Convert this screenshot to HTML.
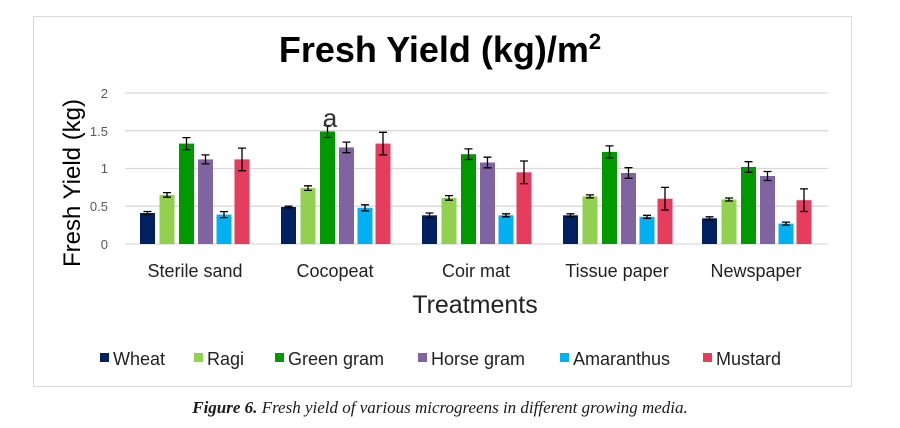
<!DOCTYPE html>
<html><head><meta charset="utf-8"><style>
body{margin:0;background:#fff;}
svg{display:block;font-family:"Liberation Sans",sans-serif;}
</style></head><body>
<svg width="900" height="428" xmlns="http://www.w3.org/2000/svg">
<rect x="33.5" y="16.5" width="818" height="370" fill="#fff" stroke="#d9d9d9" stroke-width="1"/>
<text x="440" y="62" font-size="36" font-weight="bold" text-anchor="middle" fill="#000">Fresh Yield (kg)/m<tspan font-size="22" dy="-13">2</tspan></text>
<g stroke="#d9d9d9" stroke-width="1.3">
<line x1="125" x2="828" y1="244" y2="244"/>
<line x1="125" x2="828" y1="206.2" y2="206.2"/>
<line x1="125" x2="828" y1="168.5" y2="168.5"/>
<line x1="125" x2="828" y1="130.7" y2="130.7"/>
<line x1="125" x2="828" y1="93" y2="93"/>
</g>
<g font-size="13" fill="#595959" text-anchor="end">
<text x="108" y="249">0</text><text x="108" y="211">0.5</text><text x="108" y="173">1</text><text x="108" y="136">1.5</text><text x="108" y="98">2</text>
</g>
<text transform="translate(80,183) rotate(-90)" font-size="24" text-anchor="middle" fill="#000">Fresh Yield (kg)</text>
<g>
<rect x="140" y="213.0" width="15" height="31.0" fill="#002060"/>
<rect x="159.5" y="194.9" width="15" height="49.1" fill="#92d050"/>
<rect x="179" y="143.6" width="15" height="100.4" fill="#009900"/>
<rect x="198" y="159.4" width="15" height="84.6" fill="#8064a2"/>
<rect x="216.5" y="214.6" width="15" height="29.4" fill="#00b0f0"/>
<rect x="234.5" y="159.4" width="15" height="84.6" fill="#e63c5e"/>

<rect x="281" y="207.0" width="15" height="37.0" fill="#002060"/>
<rect x="300.5" y="188.1" width="15" height="55.9" fill="#92d050"/>
<rect x="320" y="131.5" width="15" height="112.5" fill="#009900"/>
<rect x="339" y="147.4" width="15" height="96.6" fill="#8064a2"/>
<rect x="357.5" y="207.8" width="15" height="36.2" fill="#00b0f0"/>
<rect x="375.5" y="143.6" width="15" height="100.4" fill="#e63c5e"/>

<rect x="422" y="215.3" width="15" height="28.7" fill="#002060"/>
<rect x="441.5" y="197.9" width="15" height="46.1" fill="#92d050"/>
<rect x="461" y="154.2" width="15" height="89.8" fill="#009900"/>
<rect x="480" y="162.5" width="15" height="81.5" fill="#8064a2"/>
<rect x="498.5" y="215.3" width="15" height="28.7" fill="#00b0f0"/>
<rect x="516.5" y="172.3" width="15" height="71.7" fill="#e63c5e"/>

<rect x="563" y="215.3" width="15" height="28.7" fill="#002060"/>
<rect x="582.5" y="196.4" width="15" height="47.6" fill="#92d050"/>
<rect x="602" y="151.9" width="15" height="92.1" fill="#009900"/>
<rect x="621" y="173.0" width="15" height="71.0" fill="#8064a2"/>
<rect x="639.5" y="216.8" width="15" height="27.2" fill="#00b0f0"/>
<rect x="657.5" y="198.7" width="15" height="45.3" fill="#e63c5e"/>

<rect x="702" y="218.3" width="15" height="25.7" fill="#002060"/>
<rect x="721.5" y="199.5" width="15" height="44.5" fill="#92d050"/>
<rect x="741" y="167.0" width="15" height="77.0" fill="#009900"/>
<rect x="760" y="176.0" width="15" height="68.0" fill="#8064a2"/>
<rect x="778.5" y="223.6" width="15" height="20.4" fill="#00b0f0"/>
<rect x="796.5" y="200.2" width="15" height="43.8" fill="#e63c5e"/>
</g>
<g stroke="#000" stroke-width="1.3" fill="none">
<path d="M147.5 211.5V214.5M143.5 211.5h8M143.5 214.5h8"/>
<path d="M167 192.6V197.2M163 192.6h8M163 197.2h8"/>
<path d="M186.5 137.6V149.6M182.5 137.6h8M182.5 149.6h8"/>
<path d="M205.5 154.9V163.9M201.5 154.9h8M201.5 163.9h8"/>
<path d="M224 211.6V217.6M220 211.6h8M220 217.6h8"/>
<path d="M242 148.1V170.7M238 148.1h8M238 170.7h8"/>

<path d="M288.5 206.2V207.8M284.5 206.2h8M284.5 207.8h8"/>
<path d="M308 185.8V190.4M304 185.8h8M304 190.4h8"/>
<path d="M327.5 125.5V137.5M323.5 125.5h8M323.5 137.5h8"/>
<path d="M346.5 142.1V152.7M342.5 142.1h8M342.5 152.7h8"/>
<path d="M365 204.8V210.8M361 204.8h8M361 210.8h8"/>
<path d="M383 132.3V154.9M379 132.3h8M379 154.9h8"/>

<path d="M429.5 213.0V217.6M425.5 213.0h8M425.5 217.6h8"/>
<path d="M449 195.6V200.2M445 195.6h8M445 200.2h8"/>
<path d="M468.5 148.9V159.5M464.5 148.9h8M464.5 159.5h8"/>
<path d="M487.5 157.2V167.8M483.5 157.2h8M483.5 167.8h8"/>
<path d="M506 213.8V216.8M502 213.8h8M502 216.8h8"/>
<path d="M524 161.0V183.6M520 161.0h8M520 183.6h8"/>

<path d="M570.5 213.8V216.8M566.5 213.8h8M566.5 216.8h8"/>
<path d="M590 194.9V197.9M586 194.9h8M586 197.9h8"/>
<path d="M609.5 145.9V157.9M605.5 145.9h8M605.5 157.9h8"/>
<path d="M628.5 167.7V178.3M624.5 167.7h8M624.5 178.3h8"/>
<path d="M647 215.3V218.3M643 215.3h8M643 218.3h8"/>
<path d="M665 187.4V210.0M661 187.4h8M661 210.0h8"/>

<path d="M709.5 216.8V219.8M705.5 216.8h8M705.5 219.8h8"/>
<path d="M729 198.0V201.0M725 198.0h8M725 201.0h8"/>
<path d="M748.5 161.7V172.3M744.5 161.7h8M744.5 172.3h8"/>
<path d="M767.5 171.5V180.5M763.5 171.5h8M763.5 180.5h8"/>
<path d="M786 222.1V225.1M782 222.1h8M782 225.1h8"/>
<path d="M804 188.9V211.5M800 188.9h8M800 211.5h8"/>
</g>
<text x="330" y="127" font-size="26" text-anchor="middle" fill="#333">a</text>
<g font-size="18" fill="#222" text-anchor="middle">
<text x="195" y="277">Sterile sand</text><text x="335" y="277">Cocopeat</text><text x="476" y="277">Coir mat</text><text x="617" y="277">Tissue paper</text><text x="756" y="277">Newspaper</text>
</g>
<text x="475" y="313" font-size="25" text-anchor="middle" fill="#222">Treatments</text>
<g font-size="18" fill="#222">
<rect x="100" y="353" width="9" height="9" fill="#002060"/><text x="113" y="365">Wheat</text>
<rect x="194" y="353" width="9" height="9" fill="#92d050"/><text x="207" y="365">Ragi</text>
<rect x="275" y="353" width="9" height="9" fill="#009900"/><text x="288" y="365">Green gram</text>
<rect x="418" y="353" width="9" height="9" fill="#8064a2"/><text x="431" y="365">Horse gram</text>
<rect x="560" y="353" width="9" height="9" fill="#00b0f0"/><text x="573" y="365">Amaranthus</text>
<rect x="703" y="353" width="9" height="9" fill="#e63c5e"/><text x="716" y="365">Mustard</text>
</g>
<text x="440" y="413" font-family="Liberation Serif,serif" font-style="italic" font-size="17" text-anchor="middle" fill="#1a1a1a"><tspan font-weight="bold">Figure 6.</tspan> Fresh yield of various microgreens in different growing media.</text>
</svg>
</body></html>
